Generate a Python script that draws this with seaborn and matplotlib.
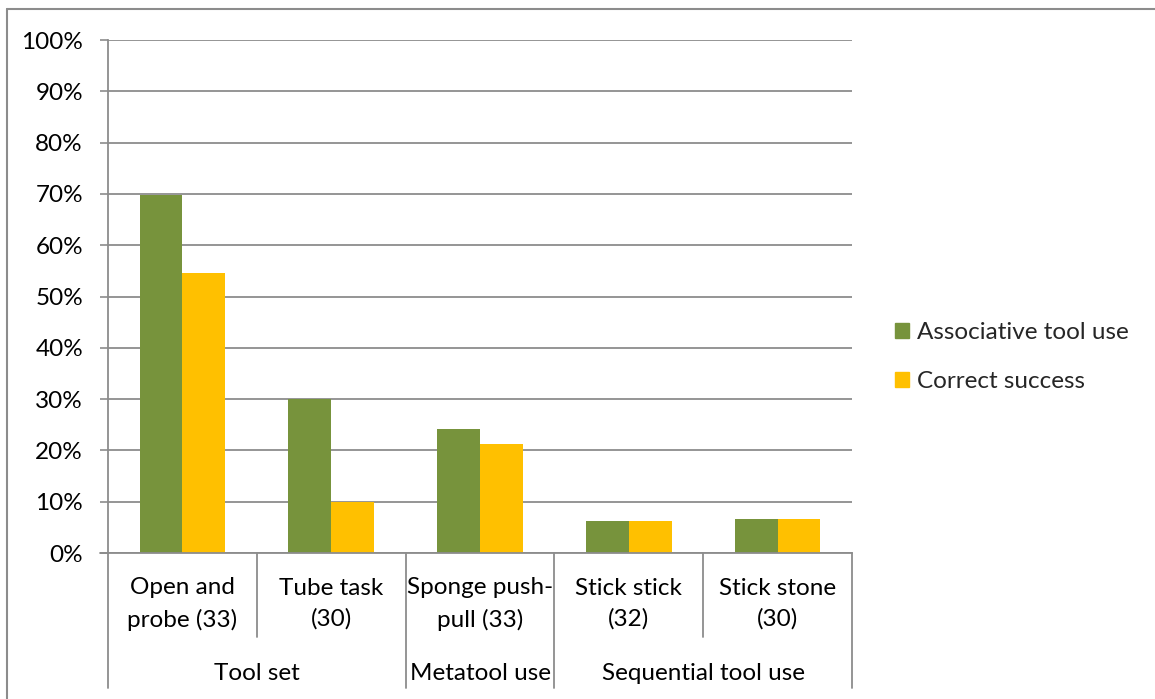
import matplotlib
matplotlib.use("Agg")
import matplotlib.pyplot as plt
from matplotlib.lines import Line2D
from matplotlib.ticker import FuncFormatter
import seaborn as sns
import pandas as pd

# Tasks (with sample sizes) and their higher-level grouping
tasks = ["Open and\nprobe (33)", "Tube task\n(30)", "Sponge push-\npull (33)",
         "Stick stick\n(32)", "Stick stone\n(30)"]
groups = ["Tool set", "Metatool use", "Sequential tool use"]
group_spans = [(0, 2), (2, 3), (3, 5)]  # [start, end) task indices per group

series = ["Associative tool use", "Correct success"]
associative = [69.7, 30.0, 24.2, 6.25, 6.67]
correct = [54.5, 10.0, 21.2, 6.25, 6.67]
colors = ["#77933C", "#FFC000"]

df = pd.DataFrame({
    "task": tasks * 2,
    "series": [series[0]] * len(tasks) + [series[1]] * len(tasks),
    "value": associative + correct,
})

sns.set_theme(style="white")
plt.rcParams["font.family"] = ["Lato", "DejaVu Sans"]

FS = 17.5
GRAY = "#8c8c8c"
fig = plt.figure(figsize=(11.55, 6.99), dpi=100)
ax = fig.add_axes([108 / 1155, 1 - 553 / 699, 744 / 1155, 513 / 699])

sns.barplot(data=df, x="task", y="value", hue="series", order=tasks,
            hue_order=series, palette=colors, width=0.575, linewidth=0,
            saturation=1, ax=ax, legend=True)

ax.set_xlim(-0.5, len(tasks) - 0.5)
ax.set_ylim(0, 100)
ax.set_yticks(range(0, 101, 10))
ax.yaxis.set_major_formatter(FuncFormatter(lambda v, _: f"{v:.0f}%"))
ax.yaxis.grid(True, color=GRAY, linewidth=1.3)
ax.set_axisbelow(True)
ax.set_xlabel("")
ax.set_ylabel("")
ax.set_xticks([])
ax.tick_params(axis="y", left=True, length=6, width=1.2, color=GRAY,
               pad=12, labelsize=FS, labelcolor="black")
for side in ["top", "right"]:
    ax.spines[side].set_visible(False)
for side in ["left", "bottom"]:
    ax.spines[side].set_color(GRAY)
    ax.spines[side].set_linewidth(1.3)
# extend the bottom axis line a little to the left like a tick
ax.plot([-0.5 - 8 / 148.8, -0.5], [0, 0], color=GRAY, lw=1.3, clip_on=False)

# Two-level category axis
tr = ax.get_xaxis_transform()
inner_bottom = -(637 - 553) / 513
outer_bottom = -(688 - 553) / 513
boundaries = set()
for s, e in group_spans:
    boundaries.add(s)
    boundaries.add(e)
for b in range(len(tasks) + 1):
    y1 = outer_bottom if b in boundaries else inner_bottom
    ax.plot([b - 0.5, b - 0.5], [0, y1], transform=tr, color=GRAY,
            lw=1.3, clip_on=False)
for i, t in enumerate(tasks):
    ax.text(i, -(604 - 553) / 513, t, transform=tr, ha="center", va="center",
            fontsize=FS, linespacing=1.55, color="black")
for g, (s, e) in zip(groups, group_spans):
    ax.text((s + e - 1) / 2, -(674 - 553) / 513, g, transform=tr,
            ha="center", va="center", fontsize=FS, color="black")

# Legend
ax.get_legend().remove()
handles = [plt.Rectangle((0, 0), 1, 1, color=c) for c in colors]
fig.legend(handles, series, loc="center left",
           bbox_to_anchor=(895 / 1155, 1 - 357 / 699), frameon=False,
           fontsize=FS, handlelength=0.58, handleheight=0.58,
           handletextpad=0.33, labelspacing=1.15, borderpad=0,
           borderaxespad=0)

# Outer chart frame
fig.add_artist(Line2D([7 / 1155, 7 / 1155], [0, 1 - 9 / 699],
                      color=GRAY, lw=1.5, transform=fig.transFigure))
fig.add_artist(Line2D([7 / 1155, 1], [1 - 9 / 699, 1 - 9 / 699],
                      color=GRAY, lw=1.5, transform=fig.transFigure))

fig.savefig("out.png", dpi=100)
